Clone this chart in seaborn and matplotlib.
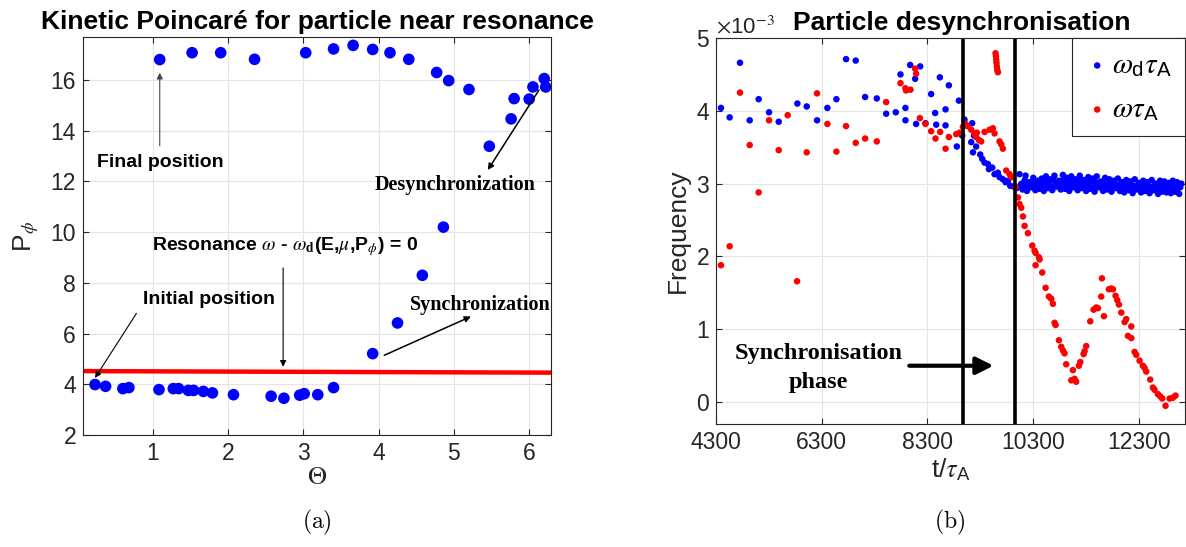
import matplotlib
matplotlib.use("Agg")
import matplotlib.pyplot as plt
import seaborn as sns

# ---- (a) kinetic Poincare map
theta = [0.23, 0.37, 0.60, 0.68, 1.08, 1.27, 1.34, 1.47, 1.54, 1.67, 1.79, 2.07,
         2.57, 2.74, 2.95, 3.01, 3.19, 3.40,
         3.92, 4.25, 4.58, 4.86,
         1.09, 1.52, 1.90, 2.35, 3.03, 3.40, 3.66, 3.92, 4.15, 4.40, 4.77, 4.93,
         5.20, 5.47, 5.76, 5.80, 6.00, 6.05, 6.20, 6.22]
p_phi = [3.99, 3.92, 3.83, 3.87, 3.79, 3.83, 3.83, 3.76, 3.76, 3.72, 3.66, 3.59,
         3.53, 3.45, 3.57, 3.63, 3.59, 3.87,
         5.21, 6.42, 8.30, 10.20,
         16.81, 17.08, 17.08, 16.82, 17.08, 17.23, 17.37, 17.21, 17.08, 16.82, 16.30, 15.98,
         15.63, 13.39, 14.47, 15.27, 15.25, 15.73, 16.06, 15.73]
res_theta = [0.07, 6.29]
res_p = [4.52, 4.46]

# ---- (b) frequencies (units of 1e-3)
t_wd = [4394, 4558, 4754, 4937, 5107, 5303, 5486, 5839, 6016, 6211, 6407, 6577,
        6760, 6943, 7120, 7341, 7518, 7700, 7883, 7883, 7789, 7972, 8066, 8161,
        8085, 8262, 8369, 8445, 8464, 8533, 8641, 8641, 8704, 8893, 8855, 8999,
        9145, 9127, 8956, 9179,
        9160, 9221, 9297, 9335, 9379, 9442, 9461, 9524, 9568, 9631, 9663, 9726,
        9777, 9821, 9865, 9928, 9991, 10041, 10155,
        10060, 10100, 10140, 10180, 10220, 10260, 10300, 10340, 10380, 10420,
        10460, 10500, 10540, 10580, 10620, 10660, 10700, 10740, 10780, 10820,
        10860, 10900, 10940, 10980, 11020, 11060, 11100, 11140, 11180, 11220,
        11260, 11300, 11340, 11380, 11420, 11460, 11500, 11540, 11580, 11620,
        11660, 11700, 11740, 11780, 11820, 11860, 11900, 11940, 11980, 12020,
        12060, 12100, 12140, 12180, 12220, 12260, 12300, 12340, 12380, 12420,
        12460, 12500, 12540, 12580, 12620, 12660, 12700, 12740, 12780, 12820,
        12860, 12900, 12940, 12980, 13020, 13060, 13100,
        10080, 10120, 10160, 10200, 10240, 10280, 10320, 10360, 10400, 10440,
        10480, 10520, 10560, 10600, 10640, 10680, 10720, 10760, 10800, 10840,
        10880, 10920, 10960, 11000, 11040, 11080, 11120, 11160, 11200, 11240,
        11280, 11320, 11360, 11400, 11440, 11480, 11520, 11560, 11600, 11640,
        11680, 11720, 11760, 11800, 11840, 11880, 11920, 11960, 12000, 12040,
        12080, 12120, 12160, 12200, 12240, 12280, 12320, 12360, 12400, 12440,
        12480, 12520, 12560, 12600, 12640, 12680, 12720, 12760, 12800, 12840,
        12880, 12920, 12960, 13000, 13040, 13080]
f_wd = [4.04, 3.91, 4.66, 3.87, 4.16, 3.98, 3.85, 4.10, 4.06, 3.87, 4.04, 4.16,
        4.71, 4.69, 4.19, 4.17, 3.96, 3.98, 4.04, 3.87, 4.50, 4.63, 4.44, 4.61,
        3.82, 3.83, 4.23, 3.97, 3.81, 4.46, 4.02, 3.80, 4.35, 4.14, 3.51, 3.88,
        3.83, 3.57, 3.66, 3.66,
        3.43, 3.51, 3.40, 3.34, 3.29, 3.27, 3.20, 3.22, 3.13, 3.15, 3.09, 3.06,
        3.02, 3.04, 2.97, 2.96, 2.94, 3.13, 3.11,
        2.98, 2.92, 3.05, 2.90, 3.02, 2.95, 3.08, 2.91, 3.04, 2.93,
        3.07, 2.90, 3.10, 2.94, 3.06, 2.91, 3.11, 2.96, 3.04, 2.92,
        3.12, 2.93, 3.08, 2.90, 3.10, 2.95, 3.06, 2.91, 3.11, 2.94,
        3.05, 2.90, 3.09, 2.93, 3.07, 2.89, 3.10, 2.95, 3.03, 2.90,
        3.08, 2.92, 3.06, 2.89, 3.04, 2.94, 3.07, 2.90, 3.02, 2.88,
        3.05, 2.91, 3.03, 2.87, 3.06, 2.92, 3.01, 2.88, 3.04, 2.90,
        3.02, 2.87, 3.05, 2.91, 3.00, 2.86, 3.04, 2.89, 3.03, 2.88,
        3.01, 2.87, 3.04, 2.89, 3.02, 2.86, 3.00,
        3.00, 2.96, 2.94, 3.01, 2.97, 3.00, 2.95, 2.99, 2.97, 3.01,
        2.98, 3.02, 2.97, 3.03, 2.96, 3.05, 2.99, 3.02, 2.97, 3.04,
        2.99, 3.03, 2.96, 3.04, 2.98, 3.02, 2.97, 3.05, 2.98, 3.01,
        2.97, 3.02, 2.96, 3.03, 2.95, 3.02, 2.98, 3.00, 2.96, 3.01,
        2.97, 2.99, 2.95, 3.00, 2.96, 2.98, 2.95, 3.00, 2.94, 2.98,
        2.96, 2.99, 2.94, 2.97, 2.95, 2.98, 2.94, 2.97, 2.93, 2.99,
        2.95, 2.96, 2.93, 2.98, 2.94, 2.96, 2.92, 2.97, 2.94, 2.96,
        2.93, 2.97, 2.92, 2.96, 2.94, 2.95]
t_w = [4394, 4558, 4754, 4937, 5107, 5303, 5486, 5656, 5833, 6016, 6211, 6407,
       6577, 6760, 6943, 7120, 7341, 7518, 7789, 7883, 7895, 7978, 8066, 8085,
       8155, 8262, 8369, 8451, 8540, 8641, 8704, 8843, 8906, 8969, 9019, 9063,
       9127, 9190, 9221, 9272, 9316, 9234, 9379, 9474, 9537, 9568, 9663, 9695, 9726,
       9587, 9595, 9600, 9605, 9612, 9620, 9631,
       9789, 9852, 9884, 9966, 10010, 10041, 10073, 10105,
       10136, 10199, 10281, 10325, 10344, 10344, 10407, 10420, 10470, 10533, 10596, 10640,
       10672, 10703, 10722, 10785, 10829, 10861, 10892, 10924, 11019, 11050, 11082, 11113,
       11164, 11189, 11252, 11271, 11302, 11378, 11441, 11492, 11523, 11586, 11599, 11637,
       11731, 11776, 11807, 11857, 11889, 11920, 11965, 12028, 12059, 12091, 12154, 12154,
       12217, 12248, 12311, 12374, 12406, 12437, 12512, 12563, 12594, 12657, 12701, 12739,
       12802, 12878, 12941, 12991]
f_w = [1.88, 2.14, 4.25, 3.53, 2.88, 3.87, 3.46, 3.94, 1.66, 3.43, 4.24, 3.82,
       3.44, 3.79, 3.56, 3.62, 3.58, 4.12, 4.38, 4.31, 4.28, 4.29, 4.58, 4.51,
       3.90, 3.82, 3.72, 3.62, 3.71, 3.48, 3.64, 3.68, 3.70, 3.78, 3.82, 3.79,
       3.74, 3.69, 3.64, 3.60, 3.58, 3.70, 3.71, 3.74, 3.76, 3.69, 3.58, 3.54, 3.48,
       4.79, 4.75, 4.70, 4.66, 4.61, 4.56, 4.53,
       3.18, 3.13, 3.09, 2.95, 2.81, 2.72, 2.67, 2.55,
       2.42, 2.32, 2.15, 2.08, 2.05, 1.88, 1.99, 1.96, 1.78, 1.57, 1.45, 1.42,
       1.35, 1.09, 1.06, 0.85, 0.76, 0.71, 0.67, 0.52, 0.30, 0.44, 0.32, 0.28,
       0.50, 0.55, 0.66, 0.70, 0.77, 1.11, 1.27, 1.30, 1.29, 1.45, 1.70, 1.18,
       1.55, 1.56, 1.55, 1.46, 1.40, 1.34, 1.23, 1.10, 1.14, 0.91, 1.04, 0.88,
       0.69, 0.65, 0.57, 0.50, 0.47, 0.42, 0.31, 0.20, 0.17, 0.11, 0.08, 0.05,
       -0.05, 0.05, 0.06, 0.09]
sync_bounds = [8970, 9950]

sns.set_theme(style="white")
plt.rcParams["font.family"] = ["Liberation Sans", "DejaVu Sans"]
plt.rcParams["mathtext.fontset"] = "stix"
plt.rcParams["text.color"] = "black"

GREY = "#262626"
fig = plt.figure(figsize=(11.86, 5.47), dpi=100)
ax1 = fig.add_axes([83 / 1186, 1 - 435 / 547, 468 / 1186, 398 / 547])
ax2 = fig.add_axes([716 / 1186, 1 - 424 / 547, 469 / 1186, 386 / 547])


def matlab_look(ax):
    ax.grid(True, color="#e4e4e4", lw=0.8)
    ax.set_axisbelow(True)
    for s in ax.spines.values():
        s.set_visible(True)
        s.set_color(GREY)
        s.set_linewidth(0.8)
    ax.tick_params(direction="in", length=4, width=0.8, colors=GREY, labelsize=16.5,
                   bottom=True, left=True, top=True, right=True, pad=5)


# (a)
sns.lineplot(x=res_theta, y=res_p, color="red", linewidth=3.2, ax=ax1)
sns.scatterplot(x=theta, y=p_phi, color="blue", s=70, edgecolor="none", ax=ax1, zorder=3)
ax1.set_xlim(0.07, 6.29)
ax1.set_ylim(2, 17.7)
ax1.set_xticks(range(1, 7))
ax1.set_yticks(range(2, 17, 2))
matlab_look(ax1)
ax1.set_title("Kinetic Poincaré for particle near resonance", fontweight="bold",
              fontsize=19, pad=6, color="black")
ax1.set_xlabel(r"$\Theta$", fontsize=19, color=GREY)
ax1.set_ylabel(r"P$_\phi$", fontsize=19, color=GREY)
ax1.xaxis.set_label_coords(0.5, -0.075)
ax1.yaxis.set_label_coords(-0.09, 0.5)

sans = dict(fontweight="bold", fontsize=14, ha="center", va="center", color="black")
serif = dict(family="Liberation Serif", fontweight="bold", fontsize=14.5, ha="center",
             va="center", color="black")
thin = dict(arrowstyle="-|>", color="black", lw=0.8, mutation_scale=9)
ax1.text(0.26, 12.76, "Final position", **{**sans, "ha": "left"})
ax1.annotate("", xy=(1.09, 16.4), xytext=(1.09, 13.3),
             arrowprops={**thin, "color": "#444444"})
ax1.text(5.02, 11.85, "Desynchronization", **serif)
ax1.annotate("", xy=(5.43, 12.36), xytext=(6.15, 15.7), arrowprops={**thin, "lw": 1.1})
ax1.text(2.76, 9.43, r"Resonance $\omega$ - $\omega_\mathbf{d}$(E,$\mu$,P$_\phi$) = 0", **sans)
ax1.annotate("", xy=(2.73, 4.58), xytext=(2.73, 8.7), arrowprops=thin)
ax1.text(1.74, 7.35, "Initial position", **sans)
ax1.annotate("", xy=(0.21, 4.16), xytext=(0.80, 6.89), arrowprops=thin)
ax1.text(5.35, 7.12, "Synchronization", **serif)
ax1.annotate("", xy=(5.26, 6.72), xytext=(4.04, 5.10), arrowprops={**thin, "lw": 1.1})

# (b)
sns.scatterplot(x=t_wd, y=f_wd, color="blue", s=22, edgecolor="none", ax=ax2,
                label=r"$\omega_\mathregular{d}\tau_\mathregular{A}$")
sns.scatterplot(x=t_w, y=f_w, color="red", s=22, edgecolor="none", ax=ax2,
                label=r"$\omega\tau_\mathregular{A}$")
for b in sync_bounds:
    ax2.axvline(b, color="black", lw=2.6)
ax2.set_xlim(4300, 13170)
ax2.set_ylim(-0.3, 5)
ax2.set_xticks([4300, 6300, 8300, 10300, 12300])
ax2.set_yticks(range(0, 6))
matlab_look(ax2)
ax2.set_title("Particle desynchronisation", fontweight="bold", fontsize=19, pad=6,
              x=0.525, color="black")
ax2.set_xlabel(r"t/$\tau_\mathregular{A}$", fontsize=19, color=GREY)
ax2.set_ylabel("Frequency", fontsize=19, color=GREY)
ax2.xaxis.set_label_coords(0.5, -0.085)
ax2.yaxis.set_label_coords(-0.055, 0.5)
ax2.text(6237, 0.47, "Synchronisation\nphase", family="Liberation Serif", fontweight="bold",
         fontsize=17.5, ha="center", va="center", linespacing=1.45, color="black")
ax2.annotate("", xy=(9601, 0.50), xytext=(7903, 0.50),
             arrowprops=dict(arrowstyle="-|>", color="black", lw=3, mutation_scale=26))
leg = ax2.legend(loc="upper right", borderaxespad=0, fontsize=21, frameon=True,
                 fancybox=False, framealpha=1, edgecolor=GREY, handletextpad=0.1,
                 handlelength=0.8, labelspacing=0.55, borderpad=0.45)
leg.get_frame().set_linewidth(0.8)
for txt in leg.get_texts():
    txt.set_color("black")

fig.text(716 / 1186, 1 - 27 / 547, r"$\times$10$^{-3}$", color=GREY, fontsize=16,
         ha="left", va="center")
fig.text(317 / 1186, 1 - 522 / 547, r"$\mathrm{(a)}$", math_fontfamily="cm",
         fontsize=17, ha="center", va="center")
fig.text(950 / 1186, 1 - 522 / 547, r"$\mathrm{(b)}$", math_fontfamily="cm",
         fontsize=17, ha="center", va="center")

fig.savefig("out.png", dpi=100)
